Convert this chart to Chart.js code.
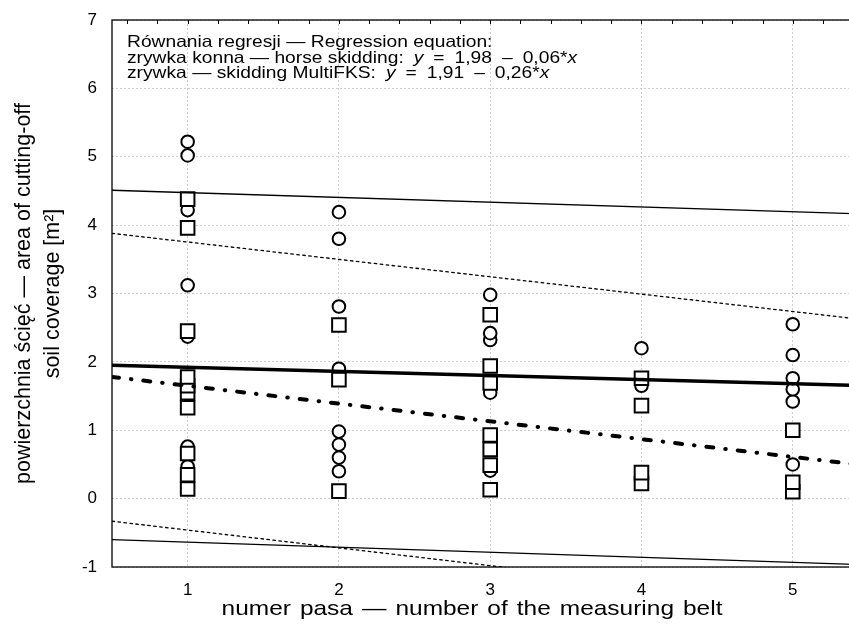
<!DOCTYPE html>
<html>
<head>
<meta charset="utf-8">
<script src="https://cdn.jsdelivr.net/npm/chart.js@4.4.1/dist/chart.umd.min.js"></script>
<style>
  html, body { margin: 0; padding: 0; background: #fff; overflow: hidden; width: 849px; height: 627px; }
  #wrap { position: relative; width: 880px; height: 627px; }
</style>
</head>
<body>
<div id="wrap"><canvas id="c" width="880" height="627"></canvas></div>
<script>
// Axis ticks
const beltTicks = [1, 2, 3, 4, 5];
const areaTicks = [-1, 0, 1, 2, 3, 4, 5, 6, 7];

// zrywka konna (horse skidding) — circles
const konnaBelt = [1, 1, 1, 1, 1, 1, 1,
                   2, 2, 2, 2, 2, 2, 2, 2,
                   3, 3, 3, 3, 3,
                   4, 4,
                   5, 5, 5, 5, 5, 5];
const konnaArea = [0.47, 0.76, 2.37, 3.12, 4.22, 5.02, 5.22,
                   0.40, 0.60, 0.79, 0.98, 1.90, 2.81, 3.80, 4.19,
                   0.41, 1.55, 2.32, 2.42, 2.98,
                   1.65, 2.20,
                   0.50, 1.42, 1.60, 1.76, 2.10, 2.55];

// zrywka MultiFKS — squares
const multiBelt = [1, 1, 1, 1, 1, 1, 1, 1, 1, 1,
                   2, 2, 2,
                   3, 3, 3, 3, 3, 3, 3,
                   4, 4, 4, 4,
                   5, 5, 5];
const multiArea = [0.14, 0.35, 0.66, 1.33, 1.55, 1.65, 1.78, 2.45, 3.96, 4.38,
                   0.11, 1.74, 2.54,
                   0.13, 0.49, 0.72, 0.93, 1.69, 1.94, 2.69,
                   0.22, 0.38, 1.36, 1.76,
                   0.10, 0.24, 1.00];

// Regression coefficients [intercept, slope]
const konnaFit = [1.98, -0.06];
const multiFit = [1.91, -0.26];

// Band limits at the ends of the belt axis
const bandBelt = [0.5, 5.5];
const konnaUpper = [4.51, 4.16];
const konnaLower = [-0.60, -0.97];
const multiUpper = [3.88, 2.61];
const multiLower = [-0.33, -1.63];

const FONT = 'Liberation Sans, Arial, sans-serif';
const TEXT_STRETCH = 1.165;   // wide horizontal lettering

const toPts = (xs, ys) => xs.map((x, i) => ({ x: x, y: ys[i] }));
const fitPts = c => bandBelt.map(x => ({ x: x, y: c[0] + c[1] * x }));

const lineSet = (pts, width, dash, order) => ({
  type: 'line', data: pts, borderColor: '#000', borderWidth: width,
  borderDash: dash, borderCapStyle: dash.length ? 'round' : 'butt',
  pointRadius: 0, fill: false, order: order, tension: 0
});

// Frame with small inner ticks along the top edge
const framePlugin = {
  id: 'frame',
  afterDatasetsDraw(chart) {
    const { ctx, chartArea: a, scales: { x } } = chart;
    ctx.save();
    ctx.strokeStyle = '#000';
    ctx.lineWidth = 1.3;
    ctx.strokeRect(a.left, a.top, a.right - a.left, a.bottom - a.top);
    ctx.lineWidth = 1;
    ctx.beginPath();
    for (let i = 3; i < 28; i++) {
      const px = Math.round(x.getPixelForValue(i * 0.2)) + 0.5;
      ctx.moveTo(px, a.top);
      ctx.lineTo(px, a.top + 4);
    }
    ctx.stroke();
    ctx.restore();
  }
};

// Note lines: runs of [text, italic, gapAfter]
const GAP = 10;
const noteLines = [
  [['Równania regresji — Regression equation:', false, 0]],
  [['zrywka konna — horse skidding:', false, GAP], ['y', true, GAP], ['=', false, GAP],
   ['1,98', false, GAP], ['–', false, GAP], ['0,06*', false, 0], ['x', true, 0]],
  [['zrywka — skidding MultiFKS:', false, GAP], ['y', true, GAP], ['=', false, GAP],
   ['1,91', false, GAP], ['–', false, GAP], ['0,26*', false, 0], ['x', true, 0]]
];

function stretchedWidth(ctx, text) {
  return ctx.measureText(text).width * TEXT_STRETCH;
}

function stretchedText(ctx, text, left, y) {
  ctx.save();
  ctx.textAlign = 'left';
  ctx.translate(left, y);
  ctx.scale(TEXT_STRETCH, 1);
  ctx.fillText(text, 0, 0);
  ctx.restore();
  return ctx.measureText(text).width * TEXT_STRETCH;
}

// words separated by a fixed gap, centred on cx
function spacedTitle(ctx, text, cx, y, gap) {
  const words = text.split(' ');
  const total = words.reduce((s, w) => s + stretchedWidth(ctx, w), 0) + gap * (words.length - 1);
  let xx = cx - total / 2;
  words.forEach(w => { xx += stretchedText(ctx, w, xx, y) + gap; });
}

const textPlugin = {
  id: 'texts',
  afterDraw(chart) {
    const { ctx, chartArea: a } = chart;
    ctx.save();
    ctx.fillStyle = '#000';
    ctx.textBaseline = 'alphabetic';
    let yy = 47;
    noteLines.forEach(line => {
      let xx = 127;
      line.forEach(([t, it, gap]) => {
        ctx.font = (it ? 'italic ' : '') + '16.5px ' + FONT;
        xx += stretchedText(ctx, t, xx, yy) + gap;
      });
      yy += 15.5;
    });

    // x-axis title
    ctx.font = '21px ' + FONT;
    ctx.textBaseline = 'middle';
    spacedTitle(ctx, 'numer pasa — number of the measuring belt', 472, 609, 9);

    // y-axis title
    ctx.font = '21.5px ' + FONT;
    ctx.textAlign = 'center';
    ctx.translate(0, (a.top + a.bottom) / 2);
    ctx.rotate(-Math.PI / 2);
    ctx.fillText('powierzchnia ścięć — area of cutting-off', 0, 24);
    ctx.fillText('soil coverage [m²]', 0, 53);
    ctx.restore();
  }
};

new Chart(document.getElementById('c').getContext('2d'), {
  type: 'scatter',
  data: {
    datasets: [
      { label: 'zrywka konna', data: toPts(konnaBelt, konnaArea), pointStyle: 'circle',
        pointRadius: 6.3, borderColor: '#000', backgroundColor: '#fff', borderWidth: 2, order: 4 },
      { label: 'zrywka MultiFKS', data: toPts(multiBelt, multiArea), pointStyle: 'rect',
        pointRadius: 9.6, borderColor: '#000', backgroundColor: '#fff', borderWidth: 2, order: 3 },
      lineSet(toPts(bandBelt, konnaUpper), 1.3, [], 2),
      lineSet(toPts(bandBelt, konnaLower), 1.3, [], 2),
      lineSet(toPts(bandBelt, multiUpper), 1.3, [2.5, 3.5], 2),
      lineSet(toPts(bandBelt, multiLower), 1.3, [2.5, 3.5], 2),
      lineSet(fitPts(konnaFit), 3.6, [], 1),
      lineSet(fitPts(multiFit), 4, [7, 12, 0.5, 12], 1)
    ]
  },
  options: {
    responsive: false,
    animation: false,
    devicePixelRatio: 1,
    layout: { padding: { top: 20, right: 9, left: 0, bottom: 0 } },
    plugins: { legend: { display: false }, tooltip: { enabled: false } },
    scales: {
      x: {
        type: 'linear', min: 0.5, max: 5.5,
        afterBuildTicks: s => { s.ticks = beltTicks.map(v => ({ value: v })); },
        afterFit: s => { s.height = 60; s.paddingLeft = 0; s.paddingRight = 0; },
        grid: { color: '#cdcdcd', lineWidth: 1, drawTicks: false },
        border: { display: false, dash: [2, 2] },
        ticks: { padding: 13, color: '#000', font: { family: FONT, size: 17 }, maxRotation: 0 }
      },
      y: {
        type: 'linear', min: -1, max: 7,
        afterBuildTicks: s => { s.ticks = areaTicks.map(v => ({ value: v })); },
        afterFit: s => { s.width = 112; s.paddingTop = 0; s.paddingBottom = 0; },
        grid: { color: '#cdcdcd', lineWidth: 1, drawTicks: false },
        border: { display: false, dash: [2, 2] },
        ticks: { padding: 15, color: '#000', font: { family: FONT, size: 17 } }
      }
    }
  },
  plugins: [framePlugin, textPlugin]
});
</script>
</body>
</html>
